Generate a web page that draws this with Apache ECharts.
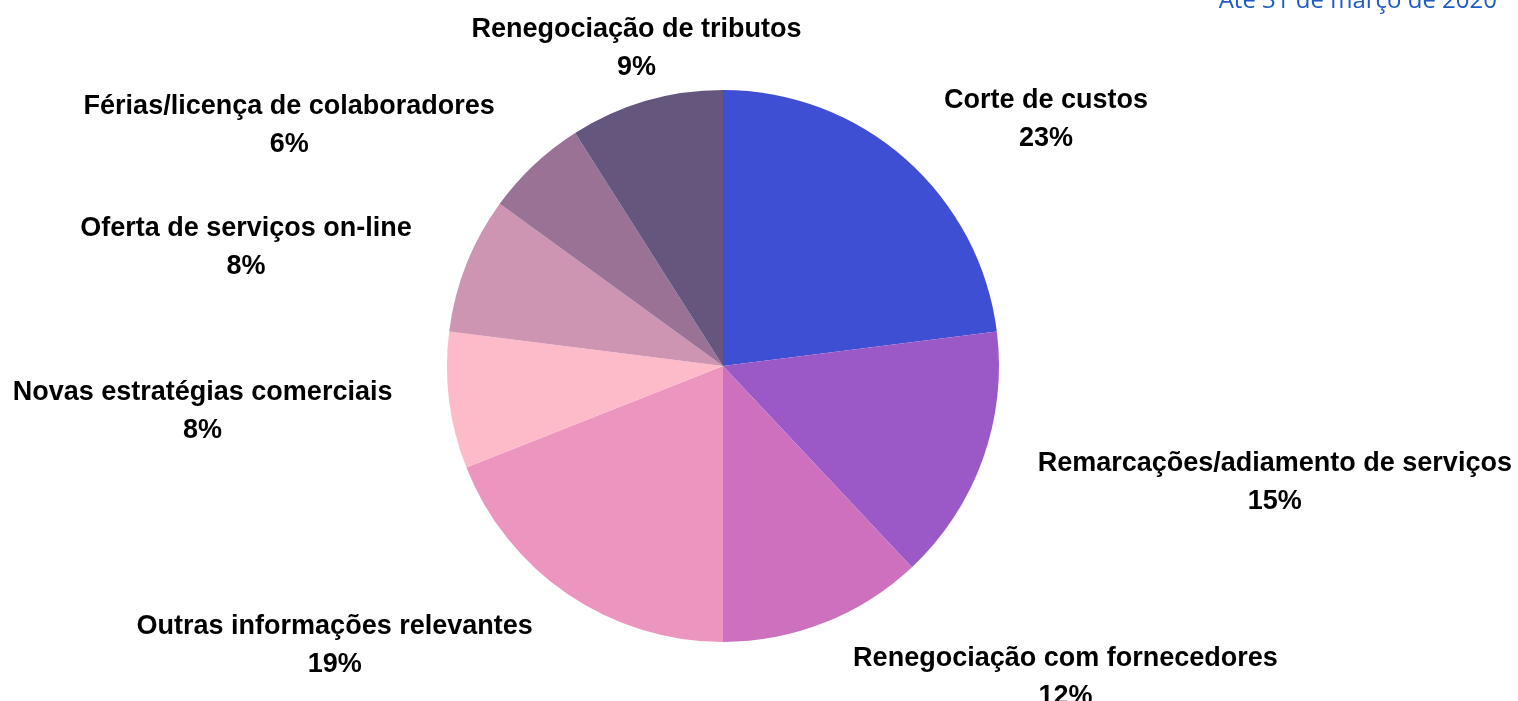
<!DOCTYPE html>
<html>
<head>
<meta charset="utf-8">
<script src="https://cdn.jsdelivr.net/npm/echarts@6/dist/echarts.min.js"></script>
<style>
  html, body { margin: 0; padding: 0; background: #fff; }
  #main { width: 1518px; height: 701px; }
</style>
</head>
<body>
<div id="main"></div>
<script>
  // dados
  var categories = [
    'Corte de custos',
    'Remarcações/adiamento de serviços',
    'Renegociação com fornecedores',
    'Outras informações relevantes',
    'Novas estratégias comerciais',
    'Oferta de serviços on-line',
    'Férias/licença de colaboradores',
    'Renegociação de tributos'
  ];
  var values = [23, 15, 12, 19, 8, 8, 6, 9];
  var colors = ['#3F4FD4', '#9B59C8', '#CD70BE', '#EC95BE', '#FDBAC9', '#CE95B2', '#9A7296', '#65567D'];
  var subtitle = 'Até 31 de março de 2020';

  // layout
  var cx = 723, cy = 366, radius = 276;
  var labelDist = 310;

  var total = values.reduce(function (a, b) { return a + b; }, 0);
  var cum = [];
  var acc = 0;
  values.forEach(function (v) { cum.push(acc); acc += v; });

  var myChart = echarts.init(document.getElementById('main'));

  var option = {
    backgroundColor: '#fff',
    title: {
      text: subtitle,
      right: 16,
      top: -16,
      textStyle: {
        color: '#1F5BC4',
        fontFamily: 'Open Sans',
        fontSize: 24,
        fontWeight: 'normal'
      }
    },
    series: [{
      type: 'pie',
      center: [cx, cy],
      radius: radius,
      startAngle: 90,
      clockwise: true,
      avoidLabelOverlap: false,
      animation: false,
      itemStyle: { borderWidth: 0 },
      label: {
        show: true,
        position: 'outside',
        formatter: function (p) { return p.name + '\n' + p.value + '%'; },
        color: '#000',
        fontFamily: 'Liberation Sans',
        fontWeight: 'bold',
        fontSize: 27,
        lineHeight: 38,
        align: 'center'
      },
      labelLine: { show: false },
      // rótulos posicionados em volta da pizza, canto mais próximo no círculo
      labelLayout: function (params) {
        var i = params.dataIndex;
        var mid = (cum[i] + values[i] / 2) / total * Math.PI * 2;
        var dx = Math.sin(mid), dy = -Math.cos(mid);
        var px = cx + dx * labelDist, py = cy + dy * labelDist;
        var w = params.labelRect.width, h = params.labelRect.height;
        var x, y;
        if (Math.abs(dx) < 0.3) {
          x = px;
          y = py + Math.sign(dy) * (h / 2 - 18);
        } else if (Math.abs(dy) < 0.4) {
          x = px + Math.sign(dx) * (w / 2 + 23);
          y = py + 4 + dy * 22;
        } else {
          x = px + Math.sign(dx) * (w / 2 + 16);
          y = dy < 0 ? py - (h / 2 - 24) : py + (h / 2 - 15);
        }
        return { x: x, y: y, align: 'center', verticalAlign: 'middle' };
      },
      data: categories.map(function (c, i) {
        return { name: c, value: values[i], itemStyle: { color: colors[i] } };
      })
    }]
  };

  myChart.setOption(option);
</script>
</body>
</html>
